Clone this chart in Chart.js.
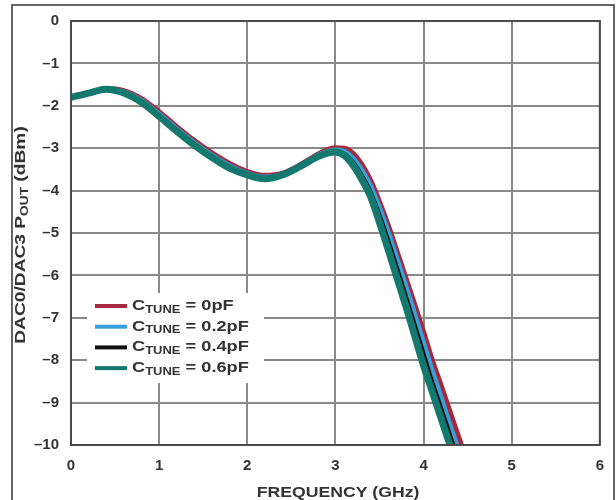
<!DOCTYPE html>
<html>
<head>
<meta charset="utf-8">
<script src="https://cdn.jsdelivr.net/npm/chart.js@4"></script>
<style>
  html, body { margin: 0; padding: 0; background: #fff; }
  #wrap { position: relative; width: 616px; height: 500px; }
</style>
</head>
<body>
<div id="wrap"><canvas id="myChart" width="616" height="500"></canvas></div>
<script>
// frequency points (GHz) shared by all curves
const frequencies = [0, 0.2, 0.4, 0.6, 0.8, 1.0, 1.2, 1.4, 1.6, 1.8, 2.0, 2.2, 2.4, 2.6, 2.8, 2.9,
  3.0, 3.1, 3.2, 3.3, 3.4, 3.5, 3.6, 3.7, 3.8, 3.9, 4.0, 4.1, 4.2, 4.3, 4.4, 4.5];

// DAC0/DAC3 Pout (dBm)
const pout0pF = [-1.80, -1.70, -1.59, -1.64, -1.83, -2.14, -2.49, -2.82, -3.11, -3.36, -3.55, -3.64, -3.59, -3.39, -3.14, -3.04,
  -2.99, -3.00, -3.12, -3.38, -3.76, -4.26, -4.82, -5.44, -6.06, -6.69, -7.33, -8.00, -8.60, -9.21, -9.82, -10.43];
const pout02pF = [-1.80, -1.70, -1.60, -1.66, -1.86, -2.18, -2.53, -2.86, -3.15, -3.40, -3.58, -3.67, -3.61, -3.41, -3.16, -3.07,
  -3.03, -3.06, -3.22, -3.50, -3.87, -4.38, -4.95, -5.58, -6.22, -6.88, -7.55, -8.22, -8.85, -9.50, -10.12, -10.80];
const pout04pF = [-1.80, -1.70, -1.60, -1.68, -1.89, -2.21, -2.56, -2.89, -3.18, -3.43, -3.60, -3.69, -3.62, -3.42, -3.18, -3.09,
  -3.06, -3.11, -3.30, -3.61, -3.99, -4.52, -5.12, -5.77, -6.43, -7.10, -7.78, -8.45, -9.07, -9.70, -10.33, -11.00];
const pout06pF = [-1.80, -1.70, -1.61, -1.70, -1.92, -2.25, -2.60, -2.93, -3.22, -3.47, -3.63, -3.72, -3.63, -3.43, -3.20, -3.12,
  -3.09, -3.17, -3.40, -3.74, -4.15, -4.75, -5.40, -6.07, -6.73, -7.43, -8.13, -8.75, -9.38, -10.00, -10.65, -11.30];

const tuneValues = ["0pF", "0.2pF", "0.4pF", "0.6pF"];
const xTickLabels = ["0", "1", "2", "3", "4", "5", "6"];
const yTickLabels = ["0", "\u20131", "\u20132", "\u20133", "\u20134", "\u20135", "\u20136", "\u20137", "\u20138", "\u20139", "\u201310"];

const colors = ["#a62a3e", "#3b9fd9", "#111111", "#13786e"];
const widths = [5, 4, 2.5, 7];
const FONT = "'Liberation Sans', Arial, sans-serif";

function toPoints(ys) {
  return frequencies.map(function(f, i) { return { x: f, y: ys[i] }; });
}

const allSeries = [pout0pF, pout02pF, pout04pF, pout06pF];

const datasets = allSeries.map(function(ys, i) {
  return {
    label: "CTUNE = " + tuneValues[i],
    data: toPoints(ys),
    borderColor: colors[i],
    borderWidth: widths[i],
    pointRadius: 0,
    cubicInterpolationMode: "monotone",
    fill: false,
    order: 4 - i,
    clip: { left: 0, top: 5, right: 0, bottom: 0 }
  };
});

// text pieces drawn one after another, each stretched sideways by sx
function drawRun(ctx, parts, x, y, sx) {
  let px = x;
  parts.forEach(function(p) {
    ctx.font = p.f;
    ctx.save();
    ctx.translate(px, y + (p.dy || 0));
    ctx.scale(sx, 1);
    ctx.fillText(p.t, 0, 0);
    ctx.restore();
    px += ctx.measureText(p.t).width * sx;
  });
  return px - x;
}

function runWidth(ctx, parts, sx) {
  let w = 0;
  parts.forEach(function(p) { ctx.font = p.f; w += ctx.measureText(p.t).width * sx; });
  return w;
}

// draws frame, subscripted titles and the legend box
const decorPlugin = {
  id: "decor",
  afterDraw: function(chart) {
    const ctx = chart.ctx;
    const area = chart.chartArea;
    ctx.save();

    // plot frame
    ctx.strokeStyle = "#4a4a4a";
    ctx.lineWidth = 2;
    ctx.strokeRect(area.left, area.top, area.right - area.left, area.bottom - area.top);

    // outer picture border
    ctx.strokeStyle = "#333";
    ctx.lineWidth = 1.5;
    ctx.beginPath();
    ctx.moveTo(12, 502);
    ctx.lineTo(12, 5);
    ctx.lineTo(614, 5);
    ctx.lineTo(614, 502);
    ctx.stroke();

    ctx.fillStyle = "#333";
    ctx.textAlign = "left";
    ctx.textBaseline = "middle";

    // x title
    const xParts = [{ t: "FREQUENCY (GHz)", f: "bold 14px " + FONT }];
    const xw = runWidth(ctx, xParts, 1.26);
    drawRun(ctx, xParts, 338 - xw / 2, 493, 1.26);

    // y title with subscript
    const yParts = [
      { t: "DAC0/DAC3 P", f: "bold 14px " + FONT },
      { t: "OUT", f: "bold 10px " + FONT, dy: 4 },
      { t: " (dBm)", f: "bold 14px " + FONT }
    ];
    const yw = runWidth(ctx, yParts, 1.37);
    ctx.save();
    ctx.translate(21, 235);
    ctx.rotate(-Math.PI / 2);
    drawRun(ctx, yParts, -yw / 2, 0, 1.37);
    ctx.restore();

    // legend
    ctx.fillStyle = "#fff";
    ctx.fillRect(87, 293, 177, 90);
    datasets.forEach(function(ds, i) {
      const y = 306 + i * 20.7;
      ctx.strokeStyle = ds.borderColor;
      ctx.lineWidth = 4;
      ctx.beginPath();
      ctx.moveTo(95, y);
      ctx.lineTo(127, y);
      ctx.stroke();
      ctx.fillStyle = "#333";
      drawRun(ctx, [
        { t: "C", f: "bold 14px " + FONT },
        { t: "TUNE", f: "bold 10px " + FONT, dy: 4 },
        { t: " = " + tuneValues[i], f: "bold 14px " + FONT }
      ], 132, y, 1.3);
    });
    ctx.restore();
  }
};

const ctx = document.getElementById("myChart");

new Chart(ctx, {
  type: "line",
  data: { datasets: datasets },
  plugins: [decorPlugin],
  options: {
    responsive: false,
    animation: false,
    layout: { padding: { left: 0, right: 8, top: 15, bottom: 0 } },
    plugins: {
      legend: { display: false },
      tooltip: { enabled: false }
    },
    scales: {
      x: {
        type: "linear",
        min: 0,
        max: 6,
        afterFit: function(scale) { scale.height = 55; },
        grid: { color: "#8a8a8a", lineWidth: 2, drawTicks: false },
        border: { display: false },
        ticks: {
          stepSize: 1,
          padding: 12,
          color: "#333",
          font: { family: FONT, size: 15, weight: "bold" },
          callback: function(value) { return xTickLabels[Math.round(value)]; }
        }
      },
      y: {
        min: -10,
        max: 0,
        afterFit: function(scale) { scale.width = 71; },
        grid: { color: "#8a8a8a", lineWidth: 2, drawTicks: false },
        border: { display: false },
        ticks: {
          stepSize: 1,
          padding: 12,
          color: "#333",
          font: { family: FONT, size: 15, weight: "bold" },
          callback: function(value) { return yTickLabels[Math.round(-value)]; }
        }
      }
    }
  }
});
</script>
</body>
</html>
